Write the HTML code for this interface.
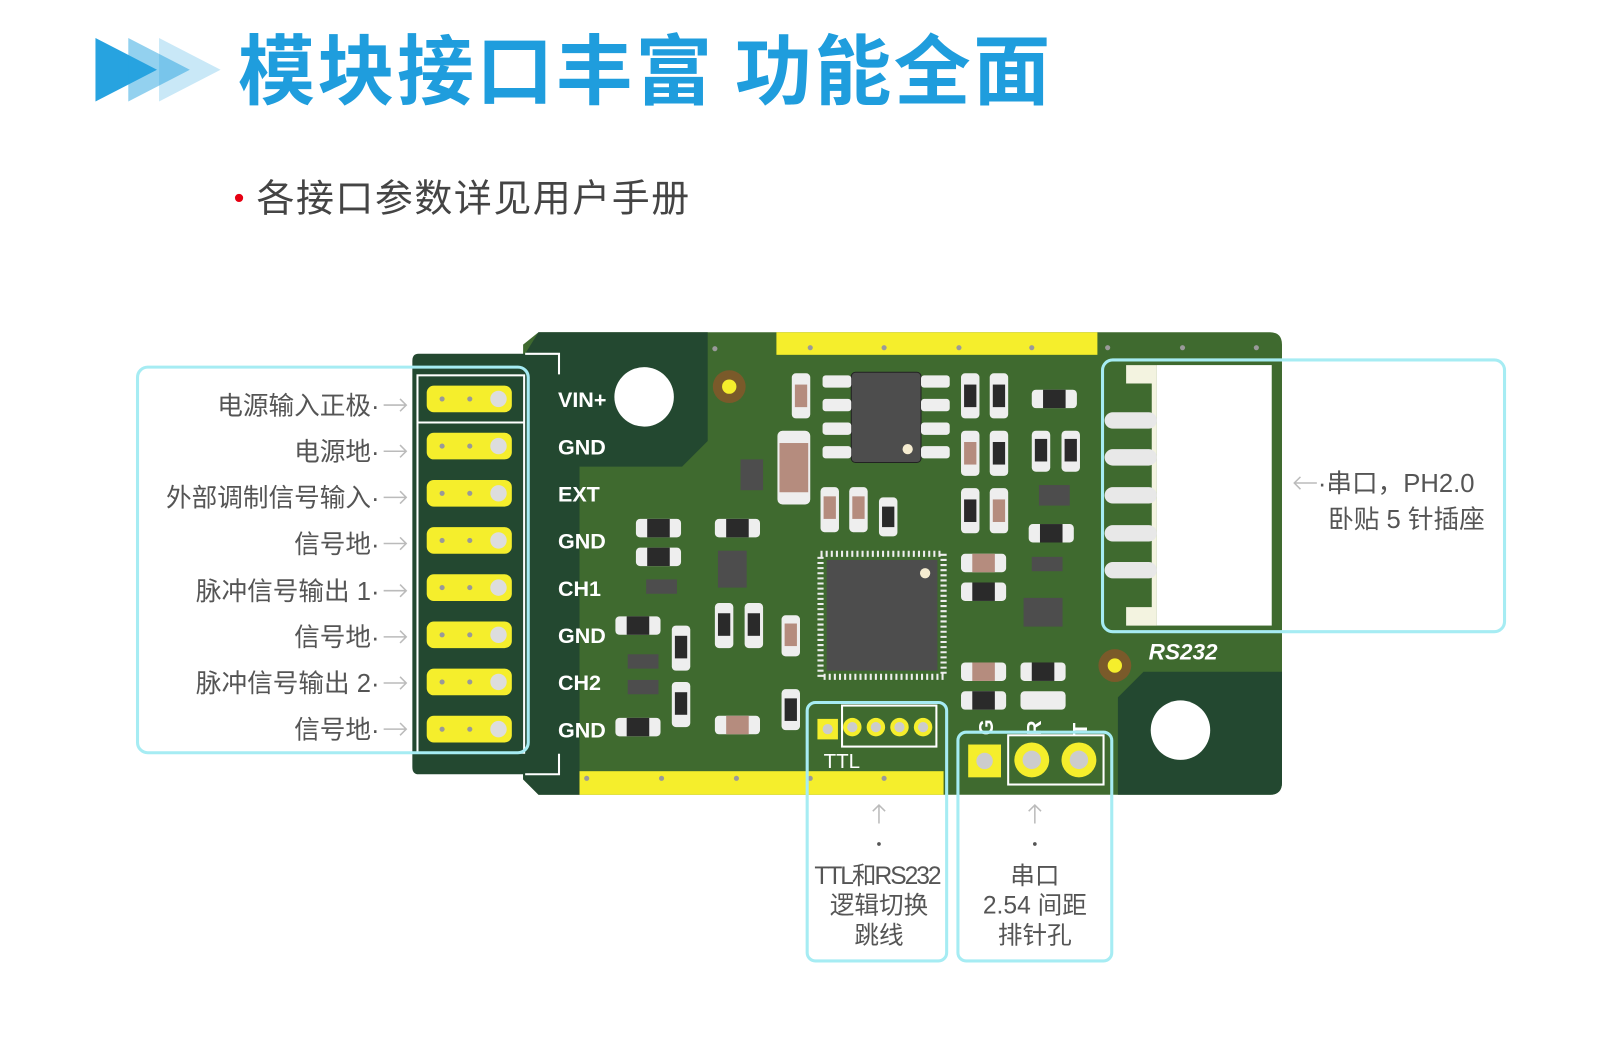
<!DOCTYPE html>
<html><head><meta charset="utf-8"><style>
html,body{margin:0;padding:0;background:#fff;}
svg{display:block;}
text{font-family:"Liberation Sans","Noto Sans CJK SC",sans-serif;}
</style></head><body>
<svg width="1600" height="1045" viewBox="0 0 1560 1019" xmlns="http://www.w3.org/2000/svg">
<!-- title -->
<polygon points="93,37 153,68 93,99" fill="#27a3e0"/>
<polygon points="125,37 185,68 125,99" fill="#27a3e0" opacity="0.5"/>
<polygon points="155,37 215,68 155,99" fill="#27a3e0" opacity="0.25"/>
<text x="232" y="96" font-size="75" font-weight="bold" fill="#1f9ddd" letter-spacing="2.5" style="font-family:'Noto Sans CJK SC',sans-serif">模块接口丰富 功能全面</text>
<circle cx="233" cy="193" r="4" fill="#e60012"/>
<text x="250" y="206" font-size="37" fill="#444" letter-spacing="1.5" style="font-family:'Noto Sans CJK SC',sans-serif">各接口参数详见用户手册</text>

<!-- board -->
<path d="M525,324 L1238,324 Q1250,324 1250,336 L1250,763 Q1250,775 1238,775 L525,775 L510,760 L510,336 Z" fill="#3f6a2f"/>
<path d="M408,345 L512,345 L525,324 L690,324 L690,430 L665,455 L565,455 L565,775 L525,775 L510,760 L510,755 L408,755 Q402,755 402,748 L402,352 Q402,345 408,345Z" fill="#234830"/>
<path d="M1090,680 L1115,655 L1250,655 L1250,763 Q1250,775 1238,775 L1090,775Z" fill="#234830"/>
<rect x="757" y="324" width="313" height="22" fill="#f5ee2c"/>
<rect x="565" y="752" width="355" height="23" fill="#f5ee2c"/>
<g fill="#9a9a9a"><circle cx="790" cy="339" r="2.5"/><circle cx="862" cy="339" r="2.5"/><circle cx="935" cy="339" r="2.5"/><circle cx="1006" cy="339" r="2.5"/><circle cx="1080" cy="339" r="2.5"/><circle cx="1153" cy="339" r="2.5"/><circle cx="1225" cy="339" r="2.5"/><circle cx="572" cy="759" r="2.5"/><circle cx="645" cy="759" r="2.5"/><circle cx="718" cy="759" r="2.5"/><circle cx="790" cy="759" r="2.5"/><circle cx="862" cy="759" r="2.5"/><circle cx="697" cy="340" r="2.5"/></g>
<!-- silkscreen corners -->
<path d="M512,345 L545,345 L545,365 M545,735 L545,755 L512,755" stroke="#fff" stroke-width="2" fill="none"/>
<!-- pin header -->
<rect x="407" y="366" width="104" height="368" fill="none" stroke="#fff" stroke-width="2"/>
<line x1="407" y1="412" x2="511" y2="412" stroke="#fff" stroke-width="2"/>
<g fill="#f5ee2c">
<rect x="416" y="376" width="83" height="26" rx="7"/><rect x="416" y="422" width="83" height="26" rx="7"/><rect x="416" y="468" width="83" height="26" rx="7"/><rect x="416" y="514" width="83" height="26" rx="7"/><rect x="416" y="560" width="83" height="26" rx="7"/><rect x="416" y="606" width="83" height="26" rx="7"/><rect x="416" y="652" width="83" height="26" rx="7"/><rect x="416" y="698" width="83" height="26" rx="7"/>
</g>
<g fill="#ddd"><circle cx="486" cy="389" r="8"/><circle cx="486" cy="435" r="8"/><circle cx="486" cy="481" r="8"/><circle cx="486" cy="527" r="8"/><circle cx="486" cy="573" r="8"/><circle cx="486" cy="619" r="8"/><circle cx="486" cy="665" r="8"/><circle cx="486" cy="711" r="8"/></g>
<g fill="#999"><circle cx="431" cy="389" r="2.5"/><circle cx="458" cy="389" r="2.5"/><circle cx="431" cy="435" r="2.5"/><circle cx="458" cy="435" r="2.5"/><circle cx="431" cy="481" r="2.5"/><circle cx="458" cy="481" r="2.5"/><circle cx="431" cy="527" r="2.5"/><circle cx="458" cy="527" r="2.5"/><circle cx="431" cy="573" r="2.5"/><circle cx="458" cy="573" r="2.5"/><circle cx="431" cy="619" r="2.5"/><circle cx="458" cy="619" r="2.5"/><circle cx="431" cy="665" r="2.5"/><circle cx="458" cy="665" r="2.5"/><circle cx="431" cy="711" r="2.5"/><circle cx="458" cy="711" r="2.5"/></g>
<g font-size="21" font-weight="bold" fill="#fff" style="font-family:'DejaVu Sans Condensed','DejaVu Sans',sans-serif">
<text x="544" y="397">VIN+</text><text x="544" y="443">GND</text><text x="544" y="489">EXT</text><text x="544" y="535">GND</text><text x="544" y="581">CH1</text><text x="544" y="627">GND</text><text x="544" y="673">CH2</text><text x="544" y="719">GND</text>
</g>
<circle cx="628" cy="387" r="29" fill="#fff"/>
<circle cx="1151" cy="712" r="29" fill="#fff"/>
<circle cx="711" cy="377" r="16" fill="#7a5a2a"/><circle cx="711" cy="377" r="7" fill="#f5ee2c"/>
<circle cx="1087" cy="649" r="16" fill="#7a5a2a"/><circle cx="1087" cy="649" r="7" fill="#f5ee2c"/>
<!-- ICs -->
<rect x="830" y="363" width="68" height="88" rx="4" fill="#4d4d4d" stroke="#222"/>
<circle cx="885" cy="438" r="5" fill="#f5ecd0"/>
<g fill="#eee"><rect x="802" y="366" width="28" height="12" rx="3"/><rect x="802" y="389" width="28" height="12" rx="3"/><rect x="802" y="412" width="28" height="12" rx="3"/><rect x="802" y="435" width="28" height="12" rx="3"/><rect x="898" y="366" width="28" height="12" rx="3"/><rect x="898" y="389" width="28" height="12" rx="3"/><rect x="898" y="412" width="28" height="12" rx="3"/><rect x="898" y="435" width="28" height="12" rx="3"/></g>
<rect x="800" y="540" width="120" height="120" fill="none" stroke="#eee" stroke-width="6" stroke-dasharray="2 3"/>
<rect x="806" y="546" width="108" height="108" fill="#4d4d4d"/>
<circle cx="902" cy="559" r="5" fill="#f5ecd0"/>
<rect x="998" y="583" width="38" height="28" fill="#4d4d4d"/>
<rect x="700" y="537" width="28" height="36" fill="#4d4d4d"/>
<!-- passives -->
<g>
<rect x="758" y="420" width="32" height="72" rx="5" fill="#eee"/><rect x="760" y="432" width="28" height="48" fill="#b58c7e"/>
<rect x="722" y="448" width="22" height="30" fill="#4d4d4d"/>
</g>
<g fill="#eee">
<rect x="937" y="364" width="18" height="44" rx="4"/><rect x="965" y="364" width="18" height="44" rx="4"/><rect x="937" y="420" width="18" height="44" rx="4"/><rect x="965" y="420" width="18" height="44" rx="4"/><rect x="937" y="476" width="18" height="44" rx="4"/><rect x="965" y="476" width="18" height="44" rx="4"/>
<rect x="772" y="364" width="18" height="44" rx="4"/><rect x="800" y="475" width="18" height="44" rx="4"/><rect x="828" y="475" width="18" height="44" rx="4"/><rect x="857" y="485" width="18" height="38" rx="4"/>
<rect x="1006" y="380" width="44" height="18" rx="4"/><rect x="1006" y="420" width="18" height="40" rx="4"/><rect x="1035" y="420" width="18" height="40" rx="4"/><rect x="1003" y="511" width="44" height="18" rx="4"/>
<rect x="620" y="506" width="44" height="18" rx="4"/><rect x="620" y="534" width="44" height="18" rx="4"/><rect x="697" y="506" width="44" height="18" rx="4"/>
<rect x="600" y="601" width="44" height="18" rx="4"/><rect x="600" y="700" width="44" height="18" rx="4"/><rect x="655" y="610" width="18" height="44" rx="4"/><rect x="655" y="665" width="18" height="44" rx="4"/>
<rect x="697" y="588" width="18" height="44" rx="4"/><rect x="726" y="588" width="18" height="44" rx="4"/><rect x="762" y="600" width="18" height="40" rx="4"/><rect x="762" y="672" width="18" height="40" rx="4"/><rect x="697" y="698" width="44" height="18" rx="4"/>
<rect x="937" y="540" width="44" height="18" rx="4"/><rect x="937" y="568" width="44" height="18" rx="4"/><rect x="937" y="646" width="44" height="18" rx="4"/><rect x="937" y="674" width="44" height="18" rx="4"/><rect x="995" y="646" width="44" height="18" rx="4"/><rect x="995" y="674" width="44" height="18" rx="4"/>
</g>
<g fill="#2a2a2a">
<rect x="940" y="375" width="12" height="22"/><rect x="968" y="375" width="12" height="22"/><rect x="968" y="431" width="12" height="22"/><rect x="940" y="487" width="12" height="22"/><rect x="1017" y="380" width="22" height="18"/><rect x="1009" y="428" width="12" height="22"/><rect x="1038" y="428" width="12" height="22"/><rect x="1014" y="511" width="22" height="18"/>
<rect x="631" y="506" width="22" height="18"/><rect x="631" y="534" width="22" height="18"/><rect x="708" y="506" width="22" height="18"/><rect x="611" y="601" width="22" height="18"/><rect x="611" y="700" width="22" height="18"/><rect x="658" y="620" width="12" height="22"/><rect x="658" y="675" width="12" height="22"/><rect x="700" y="598" width="12" height="22"/><rect x="729" y="598" width="12" height="22"/><rect x="765" y="681" width="12" height="22"/><rect x="948" y="568" width="22" height="18"/><rect x="948" y="674" width="22" height="18"/><rect x="1006" y="646" width="22" height="18"/><rect x="860" y="494" width="12" height="20"/>
</g>
<g fill="#b58c7e"><rect x="775" y="375" width="12" height="22"/><rect x="940" y="431" width="12" height="22"/><rect x="968" y="487" width="12" height="22"/><rect x="803" y="484" width="12" height="22"/><rect x="831" y="484" width="12" height="22"/><rect x="948" y="540" width="22" height="18"/><rect x="948" y="646" width="22" height="18"/><rect x="765" y="608" width="12" height="22"/><rect x="708" y="698" width="22" height="18"/></g>
<g fill="#4d4d4d"><rect x="630" y="565" width="30" height="14"/><rect x="612" y="638" width="30" height="14"/><rect x="612" y="663" width="30" height="14"/><rect x="1013" y="473" width="30" height="20"/><rect x="1006" y="543" width="30" height="14"/></g>
<!-- TTL header -->
<rect x="797" y="701" width="20" height="20" fill="#f5ee2c"/><circle cx="807" cy="711" r="5" fill="#ccc"/>
<g><circle cx="831" cy="709" r="9" fill="#f5ee2c"/><circle cx="854" cy="709" r="9" fill="#f5ee2c"/><circle cx="877" cy="709" r="9" fill="#f5ee2c"/><circle cx="900" cy="709" r="9" fill="#f5ee2c"/></g>
<g fill="#ccc"><circle cx="831" cy="709" r="5"/><circle cx="854" cy="709" r="5"/><circle cx="877" cy="709" r="5"/><circle cx="900" cy="709" r="5"/></g>
<rect x="821" y="688" width="92" height="40" fill="none" stroke="#fff" stroke-width="2"/>
<text x="803" y="749" font-size="20" fill="#fff">TTL</text>
<!-- serial header -->
<rect x="944" y="726" width="32" height="32" fill="#f5ee2c"/><circle cx="960" cy="742" r="8" fill="#ccc"/>
<circle cx="1006" cy="741" r="17" fill="#f5ee2c"/><circle cx="1006" cy="741" r="9" fill="#ccc"/>
<circle cx="1052" cy="741" r="17" fill="#f5ee2c"/><circle cx="1052" cy="741" r="9" fill="#ccc"/>
<rect x="983" y="717" width="93" height="48" fill="none" stroke="#fff" stroke-width="2"/>
<g font-size="20" font-weight="bold" fill="#fff"><text transform="translate(968,717) rotate(-90)">G</text><text transform="translate(1015,717) rotate(-90)">R</text><text transform="translate(1060,717) rotate(-90)">T</text></g>
<text x="1120" y="643" font-size="22" font-style="italic" font-weight="bold" fill="#fff">RS232</text>
<!-- connector -->
<path d="M1098,356 L1128,356 L1128,610 L1098,610 L1098,592 L1123,592 L1123,374 L1098,374Z" fill="#f3f3e0"/>
<rect x="1128" y="356" width="112" height="254" fill="#fff"/>
<g fill="#e8e8e8"><rect x="1077" y="402" width="51" height="16" rx="8"/><rect x="1077" y="438" width="51" height="16" rx="8"/><rect x="1077" y="475" width="51" height="16" rx="8"/><rect x="1077" y="512" width="51" height="16" rx="8"/><rect x="1077" y="548" width="51" height="16" rx="8"/></g>
<!-- label boxes -->
<g fill="none" stroke="#a6ecf3" stroke-width="3">
<rect x="134" y="358" width="381" height="376" rx="10"/>
<rect x="1075" y="351" width="392" height="265" rx="10"/>
<rect x="787" y="685" width="136" height="252" rx="8"/>
<rect x="934" y="714" width="150" height="223" rx="8"/>
</g>
<g font-size="25" fill="#555" text-anchor="end" style="font-family:'Noto Sans CJK SC',sans-serif">
<text x="370" y="404">电源输入正极·</text><text x="370" y="449">电源地·</text><text x="370" y="494">外部调制信号输入·</text><text x="370" y="539">信号地·</text><text x="370" y="585">脉冲信号输出 1·</text><text x="370" y="630">信号地·</text><text x="370" y="675">脉冲信号输出 2·</text><text x="370" y="720">信号地·</text>
</g>
<g stroke="#bbb" stroke-width="1.5" fill="none">
<path d="M374,395 H396 M390,389 L396,395 L390,401"/>
<path d="M374,440 H396 M390,434 L396,440 L390,446"/>
<path d="M374,485 H396 M390,479 L396,485 L390,491"/>
<path d="M374,530 H396 M390,524 L396,530 L390,536"/>
<path d="M374,576 H396 M390,570 L396,576 L390,582"/>
<path d="M374,621 H396 M390,615 L396,621 L390,627"/>
<path d="M374,666 H396 M390,660 L396,666 L390,672"/>
<path d="M374,711 H396 M390,705 L396,711 L390,717"/>
<path d="M1262,471 H1284 M1268,465 L1262,471 L1268,477"/>
<path d="M857,803 L857,785 M851,791 L857,785 L863,791"/><path d="M1009,803 L1009,785 M1003,791 L1009,785 L1015,791"/>
</g>
<g font-size="25" fill="#555" style="font-family:'Noto Sans CJK SC',sans-serif">
<text x="1285" y="480">·串口，PH2.0</text><text x="1295" y="515">卧贴 5 针插座</text>
</g>
<g fill="#555"><circle cx="857" cy="823" r="1.8"/><circle cx="1009" cy="823" r="1.8"/></g>
<g font-size="24" fill="#555" text-anchor="middle" style="font-family:'Noto Sans CJK SC',sans-serif">
<text x="855" y="862" letter-spacing="-2">TTL和RS232</text><text x="857" y="891">逻辑切换</text><text x="857" y="920">跳线</text>
<text x="1009" y="862">串口</text><text x="1009" y="891">2.54 间距</text><text x="1009" y="920">排针孔</text>
</g>
</svg>
</body></html>
